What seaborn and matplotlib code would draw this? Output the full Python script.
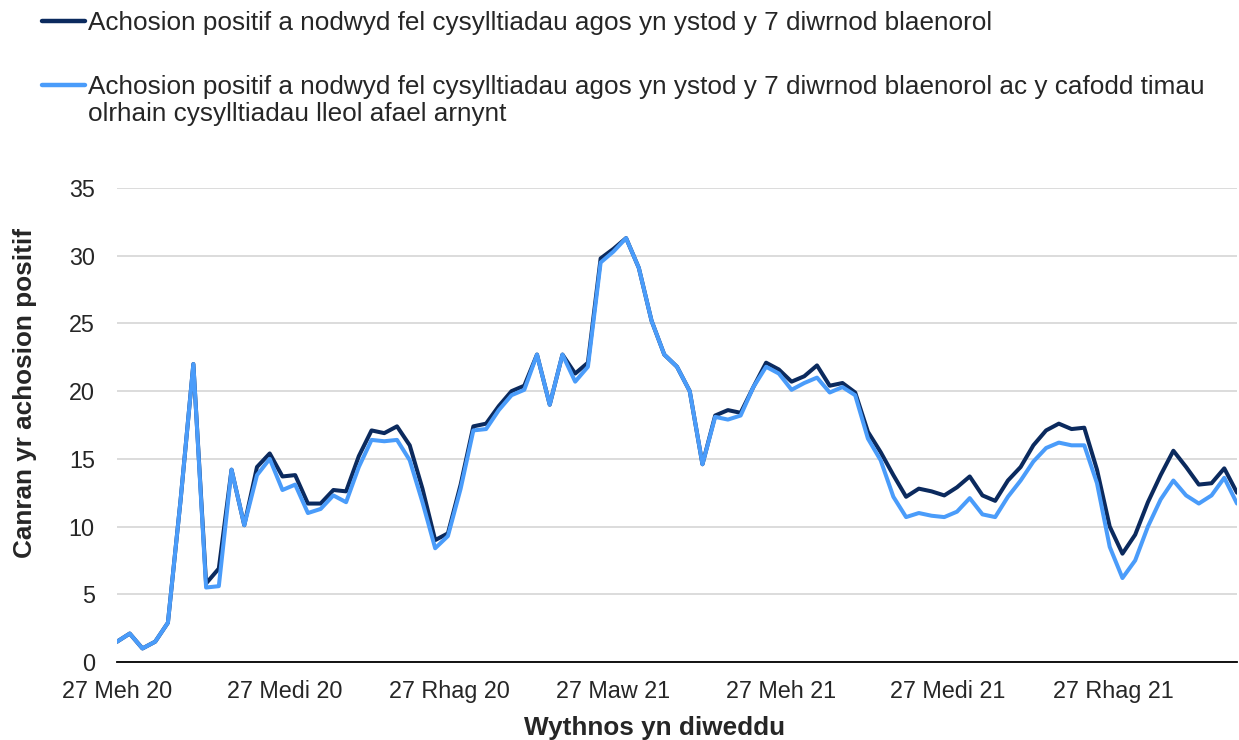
"""
Share of positive cases that were already known as close contacts
(weekly, Wales), with and without contact by local tracing teams.
"""

import pandas as pd
import matplotlib.pyplot as plt
import seaborn as sns

# weekly values
week_end = pd.date_range('2020-06-27', periods=89, freq='7D')

close_contacts = [1.5, 2.1, 1.0, 1.5, 2.9, 12.0, 22.0, 5.8, 6.9, 14.2,
                  10.1, 14.4, 15.4, 13.7, 13.8, 11.7, 11.7, 12.7, 12.6, 15.2,
                  17.1, 16.9, 17.4, 16.0, 12.8, 9.0, 9.5, 13.1, 17.4, 17.6,
                  18.9, 20.0, 20.4, 22.7, 19.0, 22.7, 21.3, 22.1, 29.8, 30.5,
                  31.3, 29.1, 25.2, 22.7, 21.8, 20.0, 14.6, 18.2, 18.6, 18.4,
                  20.3, 22.1, 21.6, 20.7, 21.1, 21.9, 20.4, 20.6, 19.9, 17.0,
                  15.5, 13.8, 12.2, 12.8, 12.6, 12.3, 12.9, 13.7, 12.3, 11.9,
                  13.4, 14.4, 16.0, 17.1, 17.6, 17.2, 17.3, 14.2, 10.0, 8.0,
                  9.4, 11.8, 13.8, 15.6, 14.4, 13.1, 13.2, 14.3, 12.5]

contacted = [1.5, 2.1, 1.0, 1.5, 2.9, 12.0, 22.0, 5.5, 5.6, 14.2,
             10.1, 13.8, 15.0, 12.7, 13.1, 11.0, 11.3, 12.3, 11.8, 14.4,
             16.4, 16.3, 16.4, 14.9, 11.8, 8.4, 9.3, 12.8, 17.1, 17.2,
             18.6, 19.7, 20.1, 22.7, 19.0, 22.7, 20.7, 21.8, 29.5, 30.3,
             31.3, 29.1, 25.2, 22.7, 21.8, 20.0, 14.6, 18.1, 17.9, 18.2,
             20.3, 21.8, 21.3, 20.1, 20.6, 21.0, 19.9, 20.3, 19.7, 16.5,
             14.9, 12.2, 10.7, 11.0, 10.8, 10.7, 11.1, 12.1, 10.9, 10.7,
             12.2, 13.4, 14.8, 15.8, 16.2, 16.0, 16.0, 13.2, 8.5, 6.2,
             7.5, 10.0, 12.0, 13.4, 12.3, 11.7, 12.3, 13.6, 11.7]

label_close = ('Achosion positif a nodwyd fel cysylltiadau agos '
               'yn ystod y 7 diwrnod blaenorol')
label_contacted = label_close + ' ac y cafodd timau'
label_contacted_2 = 'olrhain cysylltiadau lleol afael arnynt'

tick_dates = pd.to_datetime(['2020-06-27', '2020-09-27', '2020-12-27',
                             '2021-03-27', '2021-06-27', '2021-09-27',
                             '2021-12-27'])
tick_labels = ['27 Meh 20', '27 Medi 20', '27 Rhag 20', '27 Maw 21',
               '27 Meh 21', '27 Medi 21', '27 Rhag 21']

df = pd.DataFrame({'week': week_end,
                   'close': close_contacts,
                   'contacted': contacted})
long_df = df.melt(id_vars='week', var_name='series', value_name='pct')

sns.set_style('white')
plt.rcParams['font.family'] = ['Liberation Sans', 'DejaVu Sans']

fig = plt.figure(figsize=(12.39, 7.40), dpi=100)
ax = fig.add_axes([117 / 1239, 78 / 740, 1120 / 1239, 474 / 740])

sns.lineplot(data=long_df, x='week', y='pct', hue='series',
             hue_order=['close', 'contacted'],
             palette={'close': '#0b2a5e', 'contacted': '#4a9cfa'},
             linewidth=2.9, legend=False, ax=ax)

ax.set_ylim(0, 35)
ax.set_yticks(range(0, 36, 5))
ax.set_xlim(week_end[0], week_end[-1])
ax.set_xticks(tick_dates)
ax.set_xticklabels(tick_labels)

ax.yaxis.grid(True, color='#d9d9d9', linewidth=1.3)
ax.xaxis.grid(False)
for side in ['left', 'right', 'top']:
    ax.spines[side].set_visible(False)
ax.spines['bottom'].set_color('black')
ax.spines['bottom'].set_linewidth(1.3)
ax.tick_params(axis='x', direction='out', length=7, width=1.2,
               color='black', labelsize=16.8, pad=6)
ax.tick_params(axis='y', length=0, labelsize=16.8, pad=16)

ax.set_xlabel('Wythnos yn diweddu', fontsize=18.8, fontweight='bold',
              va='center')
ax.xaxis.set_label_coords(0.48, -0.139)
ax.set_ylabel('Canran yr achosion positif', fontsize=18.8,
              fontweight='bold')
ax.yaxis.set_label_coords(-0.0714, 0.567)

leg = ax.legend(handles=ax.lines[:2], labels=[label_close, label_contacted],
                loc='upper left', bbox_to_anchor=(42 / 1239, 0.9855),
                bbox_transform=fig.transFigure, frameon=False, fontsize=18.8,
                handlelength=1.65, handletextpad=0.11, labelspacing=1.56,
                borderpad=0, borderaxespad=0)
for line in leg.get_lines():
    line.set_linewidth(3.2)

# second line of the long label sits under the first one
ax.annotate(label_contacted_2, xy=(0, 0), xycoords=leg.get_texts()[1],
            xytext=(0, -2), textcoords='offset points',
            ha='left', va='top', fontsize=18.8, zorder=6)

fig.canvas.draw()
fig.savefig('out.png', dpi=100)
